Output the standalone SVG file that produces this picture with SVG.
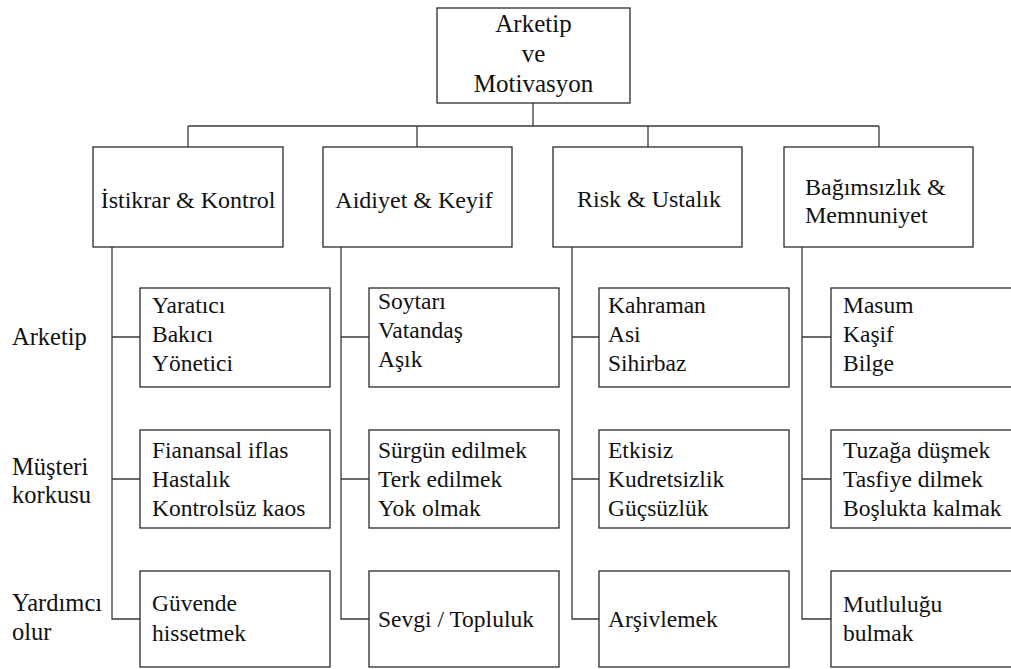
<svg xmlns="http://www.w3.org/2000/svg" width="1011" height="669" viewBox="0 0 1011 669" font-family="'Liberation Serif', 'Times New Roman', Times, 'Noto Serif', 'DejaVu Serif', serif">
  <style>
    .box { fill: #ffffff; stroke: #2b2b2b; stroke-width: 1.3; }
    .wire { fill: none; stroke: #3a3a3a; stroke-width: 1.3; }
    text { font-family: 'Liberation Serif', 'Times New Roman', Times, 'Noto Serif', 'DejaVu Serif', serif; fill: #111111; }
    .t { font-size: 23.5px; }
    .h { font-size: 24px; }
    .lab { font-size: 24.5px; }
    .title { font-size: 25px; }
    .mid { text-anchor: middle; }
  </style>
  <rect width="1011" height="669" fill="#ffffff"/>

  <!-- connectors -->
  <g id="connectors">
    <path class="wire" d="M533 103 V126 M188 126 H879 M188 126 V147 M417 126 V147 M648 126 V147 M879 126 V147"/>
    <path class="wire" d="M112 247 V619 H140 M112 337 H140 M112 479 H140"/>
    <path class="wire" d="M341 247 V619 H369 M341 337 H369 M341 479 H369"/>
    <path class="wire" d="M572 247 V619 H599 M572 337 H599 M572 479 H599"/>
    <path class="wire" d="M802 247 V619 H831 M802 337 H831 M802 479 H831"/>
  </g>

  <!-- root -->
  <g id="root">
    <rect class="box" x="437" y="8" width="193" height="95"/>
    <text class="title mid" x="533.5" y="32">Arketip</text>
    <text class="title mid" x="533.5" y="62">ve</text>
    <text class="title mid" x="533.5" y="92">Motivasyon</text>
  </g>

  <!-- categories -->
  <g id="cat-istikrar">
    <rect class="box" x="93" y="147" width="190" height="100"/>
    <text class="h mid" x="188" y="208">İstikrar &amp; Kontrol</text>
  </g>
  <g id="cat-aidiyet">
    <rect class="box" x="323" y="147" width="189" height="100"/>
    <text class="h mid" x="414" y="208">Aidiyet &amp; Keyif</text>
  </g>
  <g id="cat-risk">
    <rect class="box" x="553" y="147" width="189" height="100"/>
    <text class="h mid" x="649" y="207">Risk &amp; Ustalık</text>
  </g>
  <g id="cat-bagimsizlik">
    <rect class="box" x="784" y="147" width="189" height="100"/>
    <text class="h" x="805" y="195">Bağımsızlık &amp;</text>
    <text class="h" x="805" y="223">Memnuniyet</text>
  </g>

  <!-- row labels -->
  <g id="label-arketip">
    <text class="lab" x="12" y="345">Arketip</text>
  </g>
  <g id="label-korku">
    <text class="lab" x="12" y="475">Müşteri</text>
    <text class="lab" x="12" y="503">korkusu</text>
  </g>
  <g id="label-yardim">
    <text class="lab" x="12" y="611">Yardımcı</text>
    <text class="lab" x="12" y="640">olur</text>
  </g>

  <!-- column 1 -->
  <g id="istikrar-arketip">
    <rect class="box" x="140" y="288" width="190" height="99"/>
    <text class="t" x="152" y="313">Yaratıcı</text>
    <text class="t" x="152" y="342">Bakıcı</text>
    <text class="t" x="152" y="371">Yönetici</text>
  </g>
  <g id="istikrar-korku">
    <rect class="box" x="140" y="430" width="190" height="98"/>
    <text class="t" x="152" y="458">Fianansal iflas</text>
    <text class="t" x="152" y="487">Hastalık</text>
    <text class="t" x="152" y="516">Kontrolsüz kaos</text>
  </g>
  <g id="istikrar-yardim">
    <rect class="box" x="140" y="571" width="190" height="96"/>
    <text class="t" x="152" y="611">Güvende</text>
    <text class="t" x="152" y="641">hissetmek</text>
  </g>

  <!-- column 2 -->
  <g id="aidiyet-arketip">
    <rect class="box" x="369" y="288" width="190" height="99"/>
    <text class="t" x="378" y="309">Soytarı</text>
    <text class="t" x="378" y="338">Vatandaş</text>
    <text class="t" x="378" y="367">Aşık</text>
  </g>
  <g id="aidiyet-korku">
    <rect class="box" x="369" y="430" width="190" height="98"/>
    <text class="t" x="378" y="458">Sürgün edilmek</text>
    <text class="t" x="378" y="487">Terk edilmek</text>
    <text class="t" x="378" y="516">Yok olmak</text>
  </g>
  <g id="aidiyet-yardim">
    <rect class="box" x="369" y="571" width="190" height="96"/>
    <text class="t" x="378" y="627">Sevgi / Topluluk</text>
  </g>

  <!-- column 3 -->
  <g id="risk-arketip">
    <rect class="box" x="599" y="288" width="190" height="99"/>
    <text class="t" x="608" y="313">Kahraman</text>
    <text class="t" x="608" y="342">Asi</text>
    <text class="t" x="608" y="371">Sihirbaz</text>
  </g>
  <g id="risk-korku">
    <rect class="box" x="599" y="430" width="190" height="98"/>
    <text class="t" x="608" y="458">Etkisiz</text>
    <text class="t" x="608" y="487">Kudretsizlik</text>
    <text class="t" x="608" y="516">Güçsüzlük</text>
  </g>
  <g id="risk-yardim">
    <rect class="box" x="599" y="571" width="190" height="96"/>
    <text class="t" x="608" y="627">Arşivlemek</text>
  </g>

  <!-- column 4 -->
  <g id="bagimsizlik-arketip">
    <rect class="box" x="831" y="288" width="190" height="99"/>
    <text class="t" x="843" y="313">Masum</text>
    <text class="t" x="843" y="342">Kaşif</text>
    <text class="t" x="843" y="371">Bilge</text>
  </g>
  <g id="bagimsizlik-korku">
    <rect class="box" x="831" y="430" width="190" height="98"/>
    <text class="t" x="843" y="458">Tuzağa düşmek</text>
    <text class="t" x="843" y="487">Tasfiye dilmek</text>
    <text class="t" x="843" y="516">Boşlukta kalmak</text>
  </g>
  <g id="bagimsizlik-yardim">
    <rect class="box" x="831" y="571" width="190" height="96"/>
    <text class="t" x="843" y="612">Mutluluğu</text>
    <text class="t" x="843" y="641">bulmak</text>
  </g>
</svg>
